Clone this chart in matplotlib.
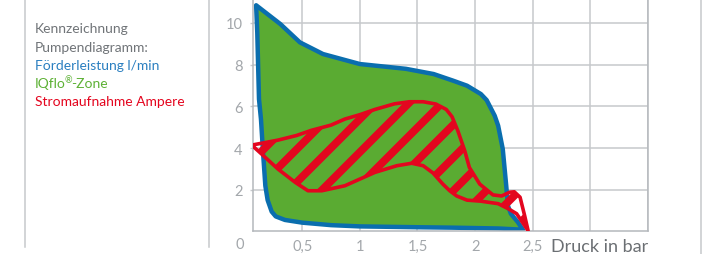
import matplotlib.pyplot as plt
from matplotlib.patches import Polygon
from matplotlib.lines import Line2D
import numpy as np

plt.rcParams["font.family"] = ["Lato", "DejaVu Sans"]

# Förderleistung (blue outline / green IQflo zone), druck [bar] vs l/min
zone_x = [0.10, 0.31, 0.48, 0.68, 1.00, 1.40, 1.64, 1.81, 1.93, 2.05, 2.10, 2.17, 2.20,
          2.24, 2.27, 2.285, 2.31, 2.37, 2.415, 2.20, 1.80, 1.50, 1.00, 0.75, 0.50,
          0.35, 0.27, 0.235, 0.20, 0.18, 0.16, 0.142, 0.125, 0.11]
zone_y = [10.85, 9.95, 9.07, 8.51, 8.03, 7.80, 7.55, 7.23, 6.99, 6.59, 6.30, 5.55, 5.07,
          3.95, 2.19, 1.23, 0.85, 0.45, 0.08, 0.14, 0.18, 0.20, 0.24, 0.30, 0.42,
          0.55, 0.72, 0.95, 1.50, 2.19, 3.80, 5.39, 6.35, 9.55]

# Stromaufnahme (red hatched band)
amp_x = [0.062, 0.29, 0.45, 0.58, 0.75, 0.87, 1.00, 1.13, 1.30, 1.43, 1.55, 1.66, 1.75,
         1.80, 1.85, 1.91, 1.95, 2.04, 2.155, 2.23, 2.30, 2.34, 2.39, 2.43, 2.46,
         2.36, 2.29, 2.20, 2.05, 1.93, 1.84, 1.78, 1.72, 1.635, 1.55, 1.45, 1.32,
         1.13, 0.87, 0.67, 0.55, 0.44, 0.29, 0.148]
amp_y = [4.14, 4.38, 4.60, 4.85, 5.10, 5.39, 5.60, 5.85, 6.12, 6.22, 6.22, 6.11, 5.85,
         5.50, 4.83, 3.87, 3.07, 2.27, 1.75, 1.70, 1.88, 1.90, 1.64, 0.75, 0.03,
         0.85, 1.08, 1.33, 1.45, 1.50, 1.70, 1.95, 2.27, 2.80, 3.15, 3.27, 3.15,
         2.83, 2.19, 1.95, 1.95, 2.35, 2.99, 3.71]

x_ticks = [0.5, 1, 1.5, 2, 2.5, 3, 3.5]
x_labels = ["0,5", "1", "1,5", "2", "2,5", "", ""]
y_ticks = [2, 4, 6, 8, 10]
y_labels = ["2", "4", "6", "8", "10"]

# each legend line as (text, superscript, rest)
legend_lines = [("Kennzeichnung", "", ""), ("Pumpendiagramm:", "", ""),
                ("Förderleistung l/min", "", ""), ("IQflo", "®", "-Zone"),
                ("Stromaufnahme Ampere", "", "")]
legend_colors = ["#707478", "#707478", "#2a7fc0", "#5db135", "#e4051e"]

W, H = 709, 255
fig = plt.figure(figsize=(W / 100, H / 100), dpi=100)
ax = fig.add_axes([253 / W, 22.6 / H, 395 / W, 232.4 / H])

grid_c = "#c6c9cc"
ax.set_xlim(0.073, 3.5)
ax.set_ylim(0, 11.15)
ax.set_xticks(x_ticks)
ax.set_xticklabels(x_labels)
ax.set_yticks(y_ticks)
ax.set_yticklabels(y_labels)
ax.grid(True, color=grid_c, lw=1.1)
ax.set_axisbelow(True)
ax.tick_params(axis="x", length=0, pad=5.5, labelsize=10.5, labelcolor="#a3a7ab")
ax.tick_params(axis="y", length=2.5, width=1, color=grid_c, pad=5,
               labelsize=10.5, labelcolor="#a3a7ab")
ax.spines["top"].set_visible(False)
for s in ["left", "bottom", "right"]:
    ax.spines[s].set_color("#b4b8bc")
    ax.spines[s].set_linewidth(1.1)

ax.text(-0.04, -0.6, "0", ha="center", va="center", fontsize=10.5,
        color="#a3a7ab", clip_on=False)

zone = Polygon(np.column_stack([zone_x, zone_y]), closed=True, facecolor="#5aab32",
               edgecolor="#0a6eae", lw=3.2, joinstyle="round", zorder=2)
ax.add_patch(zone)

amp = Polygon(np.column_stack([amp_x, amp_y]), closed=True, facecolor="none",
              edgecolor="#e3061f", lw=2.6, joinstyle="round", zorder=5)
ax.add_patch(amp)

# diagonal stripes, drawn in pixel space and clipped to the red band
for c in np.arange(513 - 33 * 12, 513 + 33 * 12, 33):
    x0 = 200
    x1 = 600
    ln = Line2D([x0, x1], [x0 - (c - H), x1 - (c - H)], color="#e3061f",
                lw=5.6, solid_capstyle="butt", transform=None, zorder=4)
    ax.add_line(ln)
    ln.set_clip_path(amp)

fig.text(648 / W, 3 / H, "Druck in bar", ha="right", va="baseline",
         fontsize=13, color="#6b6f73")

renderer = fig.canvas.get_renderer()
for i, ((t, sup, rest), c) in enumerate(zip(legend_lines, legend_colors)):
    yb = H - (33.3 + 18.3 * i)
    t1 = fig.text(35 / W, yb / H, t, ha="left", va="baseline", fontsize=10, color=c)
    if sup:
        x1 = t1.get_window_extent(renderer).x1
        t2 = fig.text((x1 - 1.5) / W, (yb + 5) / H, sup, ha="left", va="baseline",
                      fontsize=6.5, color=c)
        x2 = t2.get_window_extent(renderer).x1
        fig.text((x2 - 1) / W, yb / H, rest, ha="left", va="baseline",
                 fontsize=10, color=c)

panel_c = "#c6c9cc"
fig.add_artist(Line2D([24.5 / W, 24.5 / W], [1, 7 / H], color=panel_c, lw=1.1))
fig.add_artist(Line2D([208.5 / W, 208.5 / W], [1, 7 / H], color=panel_c, lw=1.1))
fig.add_artist(Line2D([700.5 / W, 700.5 / W], [1, 0], color=panel_c, lw=1.1))

fig.savefig("out.png", dpi=100)
